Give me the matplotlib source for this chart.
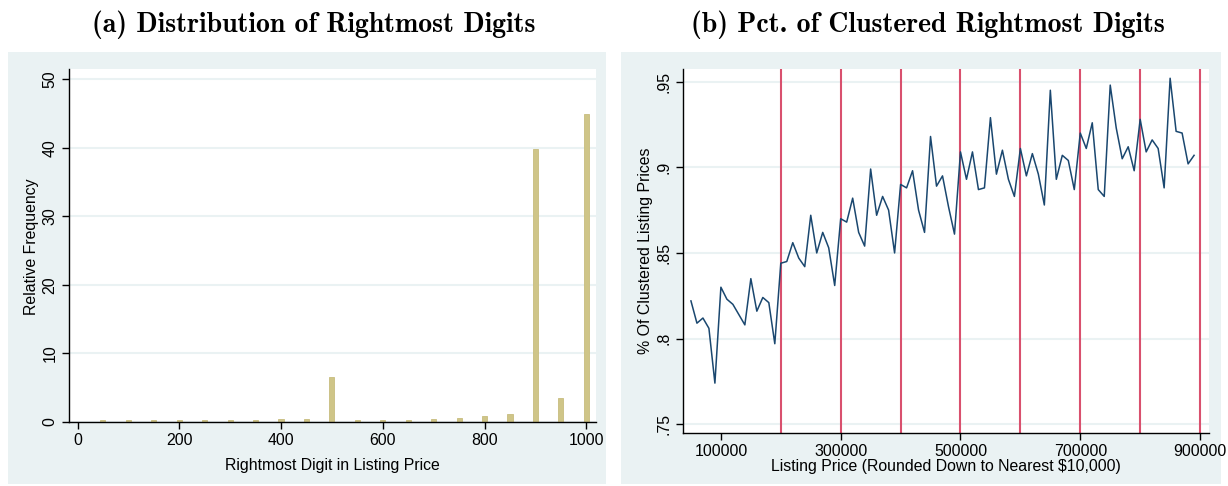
import numpy as np
import matplotlib
matplotlib.use("Agg")
import matplotlib.pyplot as plt
from matplotlib.patches import Rectangle

# Panel (a): relative frequency of the rightmost digits of the listing price
digitos = [50, 100, 150, 200, 250, 300, 350, 400, 450, 500,
           550, 600, 650, 700, 750, 800, 850, 900, 950, 1000]
frecuencia = [0.2, 0.2, 0.2, 0.2, 0.2, 0.2, 0.2, 0.4, 0.4, 6.5,
              0.2, 0.2, 0.2, 0.4, 0.6, 0.8, 1.1, 39.8, 3.4, 45.0]

# Panel (b): share of clustered listing prices by price bin
precio = list(range(50000, 900000, 10000))
pct_cluster = [0.822, 0.809, 0.812, 0.806, 0.774, 0.830, 0.823, 0.820, 0.814, 0.808,
               0.835, 0.816, 0.824, 0.821, 0.797, 0.844, 0.845, 0.856, 0.847, 0.842,
               0.872, 0.850, 0.862, 0.853, 0.831, 0.870, 0.868, 0.882, 0.862, 0.854,
               0.899, 0.872, 0.883, 0.875, 0.850, 0.890, 0.888, 0.898, 0.875, 0.862,
               0.918, 0.889, 0.895, 0.877, 0.861, 0.909, 0.893, 0.909, 0.887, 0.888,
               0.929, 0.896, 0.910, 0.893, 0.883, 0.911, 0.895, 0.908, 0.896, 0.878,
               0.945, 0.893, 0.907, 0.904, 0.887, 0.920, 0.911, 0.926, 0.887, 0.883,
               0.948, 0.923, 0.905, 0.912, 0.898, 0.928, 0.909, 0.916, 0.911, 0.888,
               0.952, 0.921, 0.920, 0.902, 0.907]
lineas_ref = [200000, 300000, 400000, 500000, 600000, 700000, 800000, 900000]

W, H = 1228, 486
fondo = '#EAF2F3'
fuente = 'Liberation Sans'
tam = 11.4

fig = plt.figure(figsize=(W / 100, H / 100), dpi=100)
fig.patch.set_facecolor('white')


def px_box(x0, y0, x1, y1):
    # pixel box (top-left origin) -> figure fraction [left, bottom, width, height]
    return [x0 / W, 1 - y1 / H, (x1 - x0) / W, (y1 - y0) / H]


# fondos de cada panel
for x0, x1 in [(8, 606), (621, 1221)]:
    fig.patches.append(Rectangle((x0 / W, 1 - 484 / H), (x1 - x0) / W, (484 - 52) / H,
                                 transform=fig.transFigure, facecolor=fondo,
                                 edgecolor='none', zorder=-5))


def estilo(ax):
    ax.set_facecolor('white')
    for s in ['top', 'right']:
        ax.spines[s].set_visible(False)
    for s in ['left', 'bottom']:
        ax.spines[s].set_color('black')
        ax.spines[s].set_linewidth(1.0)
    ax.tick_params(direction='out', length=5, width=1, colors='black',
                   labelsize=tam, labelfontfamily=fuente)
    ax.grid(axis='y', color=fondo, linewidth=1.5)
    ax.set_axisbelow(True)


# (a) histograma
ax1 = fig.add_axes(px_box(68.5, 69, 596, 421.7))
estilo(ax1)
ax1.bar(digitos, frecuencia, width=10, color='#CFC588', edgecolor='#C8BD7E',
        linewidth=0.6, zorder=2)
ax1.set_xlim(-17.7, 1019)
ax1.set_ylim(0, 51.5)
ax1.set_xticks([0, 200, 400, 600, 800, 1000])
ax1.set_yticks([0, 10, 20, 30, 40, 50])
ax1.set_yticklabels(['0', '10', '20', '30', '40', '50'], rotation=90, va='center')
ax1.tick_params(axis='x', pad=3)
ax1.tick_params(axis='y', pad=3)
ax1.set_xlabel('Rightmost Digit in Listing Price', fontsize=tam, family=fuente, va='center')
ax1.xaxis.set_label_coords(0.5, -0.123)
ax1.set_ylabel('Relative Frequency', fontsize=tam, family=fuente, va='center')
ax1.yaxis.set_label_coords(-0.071, 0.497)

# (b) porcentaje agrupado
ax2 = fig.add_axes(px_box(682.5, 69, 1209, 433.3))
estilo(ax2)
for xv in lineas_ref:
    ax2.axvline(xv, color='#D9506E', linewidth=1.5, zorder=2)
ax2.plot(precio, pct_cluster, color='#1A476F', linewidth=1.1, zorder=3)
ax2.set_xlim(35900, 914900)
ax2.set_ylim(0.7447, 0.9574)
ax2.set_xticks([100000, 300000, 500000, 700000, 900000])
ax2.set_xticklabels(['100000', '300000', '500000', '700000', '900000'])
ax2.set_yticks([0.75, 0.8, 0.85, 0.9, 0.95])
ax2.set_yticklabels(['.75', '.8', '.85', '.9', '.95'], rotation=90, va='center')
ax2.tick_params(axis='x', pad=3)
ax2.tick_params(axis='y', pad=3)
ax2.set_xlabel('Listing Price (Rounded Down to Nearest $10,000)', fontsize=tam,
               family=fuente, va='center')
ax2.xaxis.set_label_coords(0.5, -0.09)
ax2.set_ylabel('% Of Clustered Listing Prices', fontsize=tam, family=fuente, va='center')
ax2.yaxis.set_label_coords(-0.071, 0.501)

# titulos de los paneles
fig.text(314 / W, 1 - 25 / H, '(a) Distribution of Rightmost Digits', family='cmb10',
         fontsize=20, ha='center', va='center')
fig.text(928 / W, 1 - 25 / H, '(b) Pct. of Clustered Rightmost Digits', family='cmb10',
         fontsize=20, ha='center', va='center')

fig.savefig('out.png', dpi=100)
